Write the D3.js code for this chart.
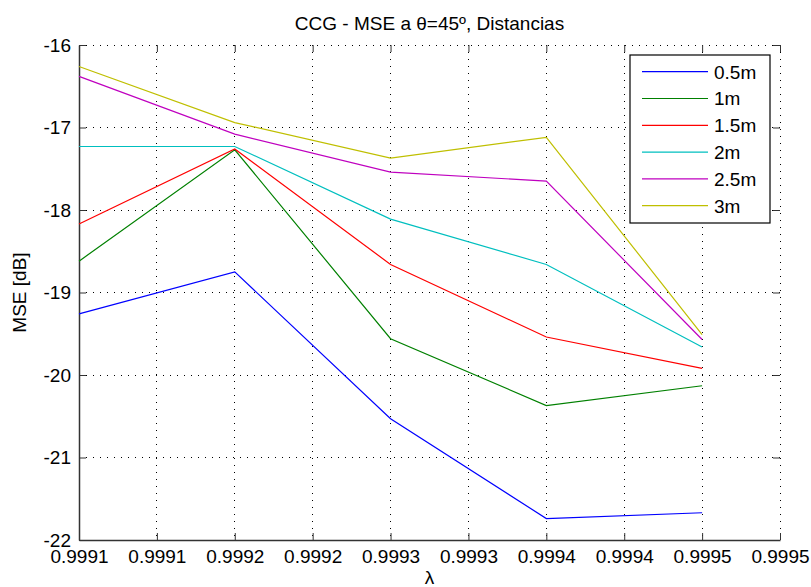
<!DOCTYPE html>
<html>
<head>
<meta charset="utf-8">
<script src="https://cdn.jsdelivr.net/npm/d3@7"></script>
<style>
  body { margin: 0; background: #fff; }
  svg { display: block; font-family: "Liberation Sans", Arial, sans-serif; }
</style>
</head>
<body>
<svg id="chart" width="811" height="587"></svg>
<script>
// lambda values and MSE [dB] per distance
let lambdas = [0.9991, 0.9992, 0.9993, 0.9994, 0.9995]
let distances = ['0.5m', '1m', '1.5m', '2m', '2.5m', '3m']
let mse05 = [-19.26, -18.75, -20.53, -21.74, -21.67]
let mse1  = [-18.62, -17.27, -19.56, -20.37, -20.13]
let mse15 = [-18.17, -17.26, -18.66, -19.54, -19.92]
let mse2  = [-17.23, -17.23, -18.11, -18.66, -19.66]
let mse25 = [-16.38, -17.08, -17.54, -17.65, -19.57]
let mse3  = [-16.26, -16.94, -17.37, -17.12, -19.51]
let colors = ['#0000ff', '#008000', '#ff0000', '#00bfbf', '#bf00bf', '#bfbf00']

let xTicks = [0.9991, 0.99915, 0.9992, 0.99925, 0.9993, 0.99935, 0.9994, 0.99945, 0.9995, 0.99955]
let xTickLabels = ['0.9991', '0.9991', '0.9992', '0.9992', '0.9993', '0.9993', '0.9994', '0.9994', '0.9995', '0.9995']
let yTicks = [-22, -21, -20, -19, -18, -17, -16]

let series = [mse05, mse1, mse15, mse2, mse25, mse3]

let svg = d3.select('#chart')
let mLeft = 79, mRight = 780, mTop = 45, mBottom = 540

let x = d3.scaleLinear().domain([0.9991, 0.99955]).range([mLeft, mRight])
let y = d3.scaleLinear().domain([-22, -16]).range([mBottom, mTop])

// grid
let grid = svg.append('g')
grid.selectAll('.vgrid')
    .data(xTicks.slice(1))
    .enter()
    .append('line')
    .attr('x1', d => x(d)).attr('x2', d => x(d))
    .attr('y1', mTop).attr('y2', mBottom)
grid.selectAll('.hgrid')
    .data(yTicks.slice(1))
    .enter()
    .append('line')
    .attr('x1', mLeft).attr('x2', mRight)
    .attr('y1', d => y(d)).attr('y2', d => y(d))
grid.selectAll('line')
    .attr('stroke', '#000')
    .attr('stroke-width', 1)
    .attr('stroke-dasharray', '1,6')
    .attr('shape-rendering', 'crispEdges')

// axes
let xAxis = d3.axisBottom(x)
    .tickValues(xTicks)
    .tickFormat((d, i) => xTickLabels[i])
    .tickSizeInner(-7).tickSizeOuter(0).tickPadding(10)
let yAxis = d3.axisLeft(y)
    .tickValues(yTicks)
    .tickFormat(d => d)
    .tickSizeInner(-7).tickSizeOuter(0).tickPadding(8)

svg.append('g').attr('transform', `translate(0,${mBottom})`).call(xAxis)
svg.append('g').attr('transform', `translate(${mLeft},0)`).call(yAxis)

svg.append('g').attr('transform', `translate(0,${mTop})`)
   .call(d3.axisTop(x).tickValues(xTicks).tickFormat('').tickSizeInner(-7).tickSizeOuter(0))
   .select('.domain').remove()
svg.append('g').attr('transform', `translate(${mRight},0)`)
   .call(d3.axisRight(y).tickValues(yTicks).tickFormat('').tickSizeInner(-7).tickSizeOuter(0))
   .select('.domain').remove()

svg.selectAll('.tick line').attr('stroke', '#333')
svg.selectAll('.domain').attr('stroke', '#333').attr('stroke-width', 1.5)
svg.selectAll('.tick text')
   .attr('font-size', 19)
   .attr('font-family', '"Liberation Sans", Arial, sans-serif')
   .attr('fill', '#000')

// series lines
let line = d3.line()
    .x((d, i) => x(lambdas[i]))
    .y(d => y(d))

svg.selectAll('.series')
   .data(series)
   .enter()
   .append('path')
   .attr('class', 'series')
   .attr('d', line)
   .attr('fill', 'none')
   .attr('stroke', (d, i) => colors[i])
   .attr('stroke-width', 1.2)

// legend
let legend = svg.append('g')
legend.append('rect')
      .attr('x', 630).attr('y', 55)
      .attr('width', 140).attr('height', 168)
      .attr('fill', '#fff').attr('stroke', '#000').attr('stroke-width', 1.2)

let rows = legend.selectAll('.row')
      .data(distances)
      .enter()
      .append('g')
      .attr('transform', (d, i) => `translate(0,${71.7 + i * 26.8})`)
rows.append('line')
    .attr('x1', 642).attr('x2', 708)
    .attr('stroke', (d, i) => colors[i])
    .attr('stroke-width', 1.2)
rows.append('text')
    .attr('x', 714).attr('dy', '0.36em')
    .attr('font-size', 19)
    .text(d => d)

// titles
svg.append('text')
   .attr('x', (mLeft + mRight) / 2).attr('y', 30)
   .attr('text-anchor', 'middle')
   .attr('font-size', 19)
   .text('CCG - MSE a θ=45º, Distancias')

svg.append('text')
   .attr('x', (mLeft + mRight) / 2).attr('y', 584)
   .attr('text-anchor', 'middle')
   .attr('font-size', 19)
   .text('λ')

svg.append('text')
   .attr('transform', `translate(26,${(mTop + mBottom) / 2}) rotate(-90)`)
   .attr('text-anchor', 'middle')
   .attr('font-size', 19)
   .text('MSE [dB]')
</script>
</body>
</html>
